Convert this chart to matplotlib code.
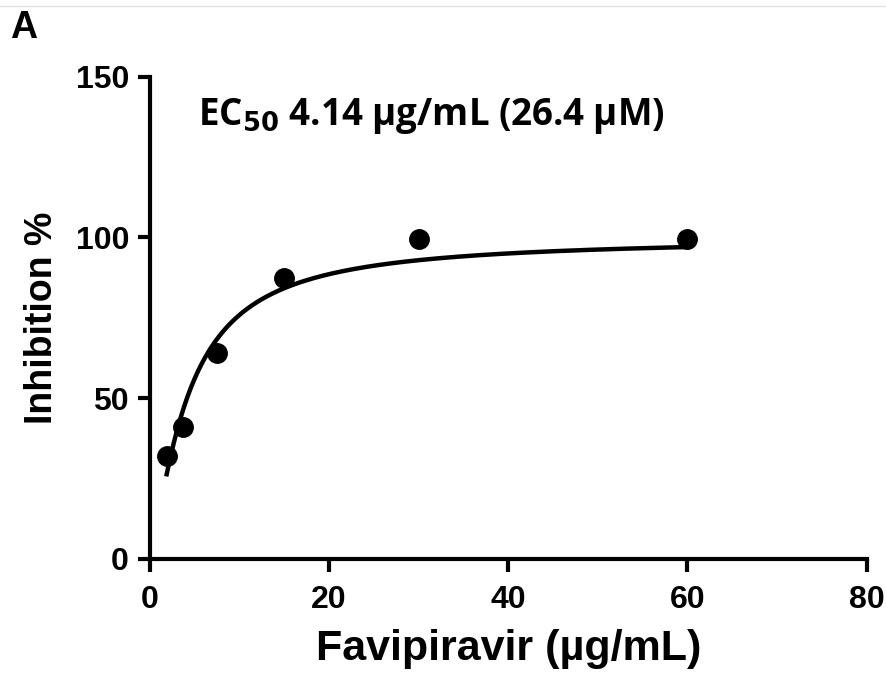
import numpy as np
import matplotlib
matplotlib.use("Agg")
import matplotlib.pyplot as plt
from matplotlib.lines import Line2D

# measured points
conc = [1.875, 3.75, 7.5, 15, 30, 60]
inhib = [32, 41, 64, 87.5, 99.5, 99.5]

# fitted dose-response curve parameters
ec50 = 4.14
hill = 1.3
top = 100
xticks = [0, 20, 40, 60, 80]
yticks = [0, 50, 100, 150]

plt.rcParams['font.family'] = ['Liberation Sans', 'DejaVu Sans']
plt.rcParams['font.weight'] = 'bold'

fig = plt.figure(figsize=(8.87, 6.79), dpi=100)
ax = fig.add_axes([0.169, 0.177, 0.808, 0.71])

xfit = np.linspace(min(conc), max(conc), 300)
yfit = top * xfit**hill / (ec50**hill + xfit**hill)
ax.plot(xfit, yfit, color='black', lw=3.2)
ax.plot(conc, inhib, 'o', color='black', ms=14)

ax.set_xlim(0, 80)
ax.set_ylim(0, 150)
ax.set_xticks(xticks)
ax.set_yticks(yticks)
for s in ['top', 'right']:
    ax.spines[s].set_visible(False)
for s in ['left', 'bottom']:
    ax.spines[s].set_linewidth(3)
ax.tick_params(axis='both', width=3, length=9, labelsize=23)
ax.tick_params(axis='x', pad=10)
ax.tick_params(axis='y', pad=6)
for lab in ax.get_xticklabels() + ax.get_yticklabels():
    lab.set_fontweight('bold')

ax.set_xlabel('Favipiravir (µg/mL)', fontsize=31, fontweight='bold', labelpad=10)
ax.set_ylabel('Inhibition %', fontsize=27, fontweight='bold', labelpad=11)

ax.text(5.4, 135, r'EC$_{\mathbf{50}}$ 4.14 µg/mL (26.4 µM)', fontsize=26.5,
        fontweight='bold', family=['Open Sans', 'DejaVu Sans'], va='baseline')

fig.text(0.011, 0.944, 'A', fontsize=27, fontweight='bold', va='baseline')
fig.add_artist(Line2D([0, 1], [0.991, 0.991], color='#e4e4e4', lw=1))

fig.savefig('out.png', dpi=100)
